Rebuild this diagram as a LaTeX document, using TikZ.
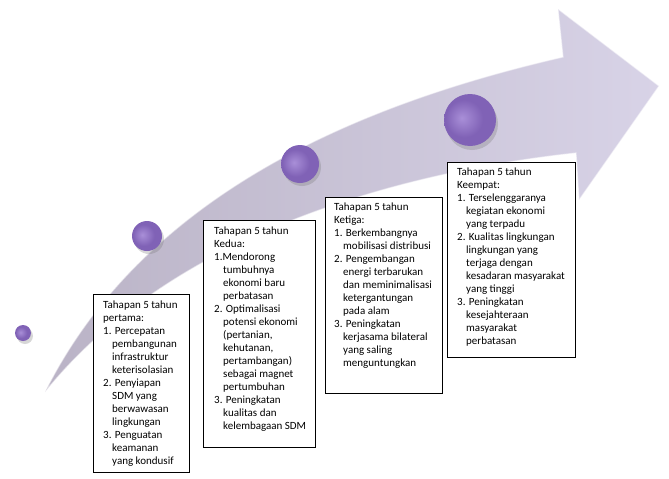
\documentclass[tikz,border=0pt]{standalone}
\usepackage{fontspec}
\setmainfont{Carlito}
\definecolor{lavender}{HTML}{D8D3E7}
\definecolor{greylavender}{HTML}{BAB3C6}
\definecolor{lightpurple}{HTML}{A98FD8}
\definecolor{midpurple}{HTML}{8062B6}
\definecolor{darkpurple}{HTML}{553988}
\definecolor{shadowgrey}{HTML}{7A7A7A}
\pgfdeclareradialshading{bead}{\pgfpoint{-8bp}{2bp}}{color(0bp)=(lightpurple); color(18bp)=(midpurple); color(40bp)=(midpurple); color(47bp)=(darkpurple); color(60bp)=(darkpurple)}
\newcommand{\ind}{\hspace*{9pt}}
\begin{document}
\begin{tikzpicture}[x=1pt, y=-1pt,
  box/.style={draw=black, line width=0.8pt, fill=white, anchor=north west, inner sep=0pt},
  boxtext/.style={anchor=north west, align=left, inner sep=0pt, font=\fontsize{11}{13}\selectfont}]
\useasboundingbox (0,0) rectangle (669,479);
\shadedraw[left color=greylavender, right color=lavender, draw=white, draw opacity=0.5, line width=1.2pt] (45,392) .. controls (145,192) and (363,103) .. (563,57) -- (558,9) -- (659,86) -- (579,200) -- (576,153) .. controls (420,170) and (180,225) .. (45,392) -- cycle;
\fill[shadowgrey, opacity=0.3] (25,336) circle (8pt);
\shade[shading=bead] (23,333) circle (8pt);
\fill[shadowgrey, opacity=0.3] (149,239) circle (15pt);
\shade[shading=bead] (147,236) circle (15pt);
\fill[shadowgrey, opacity=0.3] (302,167) circle (19pt);
\shade[shading=bead] (300,164) circle (19pt);
\fill[shadowgrey, opacity=0.3] (472,124) circle (26pt);
\shade[shading=bead] (470,120) circle (26pt);
\node[box, minimum width=96pt, minimum height=178pt] (tahap1) at (93,294) {};
\node[box, minimum width=112pt, minimum height=227pt] (tahap2) at (203,220) {};
\node[box, minimum width=117pt, minimum height=196pt] (tahap3) at (325,197) {};
\node[box, minimum width=128pt, minimum height=195pt] (tahap4) at (447,162) {};
\node[boxtext] (teks1) at ([shift={(10,7)}]tahap1.north west) {Tahapan 5 tahun\\pertama:\\1. Percepatan\\\ind pembangunan\\\ind infrastruktur\\\ind keterisolasian\\2. Penyiapan\\\ind SDM yang\\\ind berwawasan\\\ind lingkungan\\3. Penguatan\\\ind keamanan\\\ind yang kondusif};
\node[boxtext] (teks2) at ([shift={(11,7)}]tahap2.north west) {Tahapan 5 tahun\\Kedua:\\1.Mendorong\\\ind tumbuhnya\\\ind ekonomi baru\\\ind perbatasan\\2. Optimalisasi\\\ind potensi ekonomi\\\ind (pertanian,\\\ind kehutanan,\\\ind pertambangan)\\\ind sebagai magnet\\\ind pertumbuhan\\3. Peningkatan\\\ind kualitas dan\\\ind kelembagaan SDM};
\node[boxtext] (teks3) at ([shift={(9,6)}]tahap3.north west) {Tahapan 5 tahun\\Ketiga:\\1. Berkembangnya\\\ind mobilisasi distribusi\\2. Pengembangan\\\ind energi terbarukan\\\ind dan meminimalisasi\\\ind ketergantungan\\\ind pada alam\\3. Peningkatan\\\ind kerjasama bilateral\\\ind yang saling\\\ind menguntungkan};
\node[boxtext] (teks4) at ([shift={(10,6)}]tahap4.north west) {Tahapan 5 tahun\\Keempat:\\1. Terselenggaranya\\\ind kegiatan ekonomi\\\ind yang terpadu\\2. Kualitas lingkungan\\\ind lingkungan yang\\\ind terjaga dengan\\\ind kesadaran masyarakat\\\ind yang tinggi\\3. Peningkatan\\\ind kesejahteraan\\\ind masyarakat\\\ind perbatasan};
\end{tikzpicture}
\end{document}
